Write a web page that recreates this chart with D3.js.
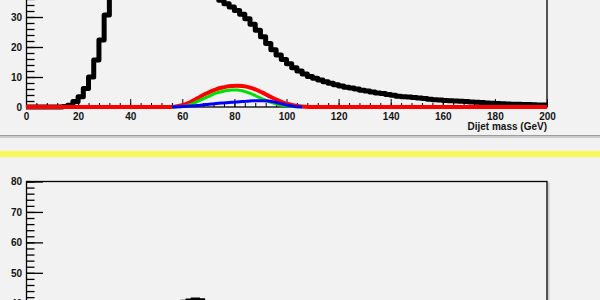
<!DOCTYPE html>
<html>
<head>
<meta charset="utf-8">
<script src="https://d3js.org/d3.v7.min.js"></script>
<style>
body{margin:0;background:#f2f2f2;overflow:hidden;}
svg text{font-family:"Liberation Sans",Arial,sans-serif;font-weight:bold;font-size:10px;fill:#141414;}
</style>
</head>
<body>
<svg width="600" height="300"></svg>
<script>
var svg = d3.select("svg");

//==================================================
//Data: 2 GeV bins, dijet mass 0 - 200 GeV

var binWidth = 2;
var massTicks = [0,20,40,60,80,100,120,140,160,180,200];
var topTicks = [0,10,20,30];
var bottomTicks = [40,50,60,70,80];
var xLabel = "Dijet mass (GeV)";

//black - background, 0..200
var background = [
  0,0,0,0,0,0,0,0.2,0.6,1.8,
  3.4,6.2,10,15.7,22.3,30.7,40,48,55,61,
  66,69,71,72,71,69,66,62,58,54,
  50,47,44,41.5,39.5,38,36.8,35.6,34.4,33.3,
  32.2,30.9,29.4,27.6,25.6,23.4,21.2,19.1,17.3,15.8,
  14.4,13.1,12.0,11.0,10.2,9.6,9.0,8.4,7.9,7.4,
  7.0,6.6,6.3,6.0,5.6,5.3,5.0,4.7,4.5,4.2,
  3.9,3.6,3.4,3.3,3.2,3.0,2.8,2.6,2.4,2.3,
  2.2,2.1,2.0,1.9,1.8,1.7,1.6,1.5,1.35,1.25,
  1.15,1.1,1.0,0.95,0.9,0.85,0.8,0.75,0.7,0.7];

//red - total signal, 0..200
var signalTotal = [
  0,0,0,0,0,0,0,0,0,0,
  0,0,0,0,0,0,0,0,0,0,
  0,0,0,0,0,0,0,0,0.1,0.4,
  0.9,1.6,2.5,3.5,4.4,5.2,5.9,6.4,6.8,7.0,
  7.1,7.0,6.7,6.2,5.5,4.7,3.8,2.9,2.1,1.4,
  0.9,0.5,0.25,0.1,0,0,0,0,0,0,
  0,0,0,0,0,0,0,0,0,0,
  0,0,0,0,0,0,0,0,0,0,
  0,0,0,0,0,0,0,0,0,0,
  0,0,0,0,0,0,0,0,0,0];

//green and blue start at 56 GeV
var signalStart = 56;
var signalW = [0.05,0.1,0.3,0.8,1.5,2.3,3.1,3.9,4.6,5.1,5.5,5.7,5.7,5.4,4.9,4.2,3.4,2.6,1.9,1.3,0.8,0.5,0.3,0.15,0.05];
var signalZ = [0.05,0.1,0.2,0.3,0.45,0.6,0.8,1.0,1.15,1.3,1.45,1.55,1.7,1.8,1.95,2.05,2.1,2.1,2.0,1.7,1.3,0.9,0.5,0.2,0.05];

//lower pad, black, 0..200
var lowerHist = [
  0,0,0,0,0,0,0,0.1,0.3,0.8,
  1.6,2.8,4.4,6.4,8.8,11.5,14.4,17.4,20.4,23.3,
  26.0,28.5,30.7,32.7,34.4,35.9,37.2,38.3,39.2,39.9,
  40.5,40.9,41.2,41.0,40.3,39.3,38.0,36.4,34.6,32.7,
  30.6,28.5,26.3,24.1,22.0,19.9,17.9,16.0,14.3,12.7,
  11.3,10.0,8.9,7.9,7.0,6.2,5.5,4.9,4.4,3.9,
  3.5,3.1,2.8,2.5,2.2,2.0,1.8,1.6,1.4,1.3,
  1.2,1.1,1.0,0.9,0.8,0.7,0.6,0.6,0.5,0.5,
  0.4,0.4,0.4,0.3,0.3,0.3,0.3,0.2,0.2,0.2,
  0.2,0.2,0.1,0.1,0.1,0.1,0.1,0.1,0.1,0.1];

//==================================================
//Scales

var x = d3.scaleLinear().domain([0,200]).range([26,547]);
var yTop = d3.scaleLinear().domain([0,70]).range([107,-103]);
var yBot = d3.scaleLinear().domain([0,80]).range([425,181.5]);

//turns bin contents into step outline points
function steps(vals, start){
  var pts = vals.map(function(v,i){ return [start + i*binWidth, v]; });
  pts.push([start + vals.length*binWidth, vals[vals.length-1]]);
  return pts;
}
//bin centres, plus both edges, for the smooth ones
function centres(vals, start){
  var pts = [[start, vals[0]]];
  vals.forEach(function(v,i){ pts.push([start + (i+0.5)*binWidth, v]); });
  pts.push([start + vals.length*binWidth, vals[vals.length-1]]);
  return pts;
}

function drawAxes(g, y, yTicks, top, bottom, withX){
  var minorY = d3.range(y.domain()[0], y.domain()[1]+0.01, 2);
  g.append("g").attr("transform","translate(26,0)")
    .call(d3.axisLeft(y).tickValues(minorY).tickSizeInner(-8.5).tickSizeOuter(0).tickFormat(""))
    .call(function(a){ a.select(".domain").remove(); a.selectAll("line").attr("stroke","#000").attr("stroke-width",1.3); });
  g.append("g").attr("transform","translate(26,0)")
    .call(d3.axisLeft(y).tickValues(yTicks).tickSizeInner(-17).tickSizeOuter(0).tickPadding(4))
    .call(function(a){ a.select(".domain").remove(); a.selectAll("line").attr("stroke","#000").attr("stroke-width",1.3); a.selectAll("text").attr("font-size",null).attr("font-family",null); });

  if(withX){
    var minorX = d3.range(0, 201, 4);
    g.append("g").attr("transform","translate(0,"+bottom+")")
      .call(d3.axisBottom(x).tickValues(minorX).tickSizeInner(-4).tickSizeOuter(0).tickFormat(""))
      .call(function(a){ a.select(".domain").remove(); a.selectAll("line").attr("stroke","#000"); });
    g.append("g").attr("transform","translate(0,"+bottom+")")
      .call(d3.axisBottom(x).tickValues(massTicks).tickSizeInner(-8).tickSizeOuter(0).tickPadding(6))
      .call(function(a){ a.select(".domain").remove(); a.selectAll("line").attr("stroke","#000"); a.selectAll("text").attr("font-size",null).attr("font-family",null); });
  }

  //frame
  g.append("rect")
    .attr("x",26.5).attr("y",top)
    .attr("width",x(200)-26.5).attr("height",bottom-top)
    .attr("fill","none").attr("stroke","#000").attr("stroke-width",1.3);
}

//==================================================
//Top pad

var topPad = svg.append("g");
drawAxes(topPad, yTop, topTicks, -103, 107, true);

topPad.append("text")
  .attr("x", 547).attr("y", 130)
  .attr("text-anchor","end")
  .text(xLabel);

svg.append("clipPath").attr("id","clipTop")
  .append("rect").attr("x",20).attr("y",-103).attr("width",535).attr("height",215);

var stepTop = d3.line()
  .x(function(d){ return x(d[0]); })
  .y(function(d){ return yTop(d[1]); })
  .curve(d3.curveStepAfter);
var smoothTop = d3.line()
  .x(function(d){ return x(d[0]); })
  .y(function(d){ return yTop(d[1]); })
  .curve(d3.curveMonotoneX);

var hists = [
  {vals: background, start: 0, color: "#000000", w: 5, smooth: false},
  {vals: signalTotal, start: 0, color: "#ff0000", w: 4, smooth: true},
  {vals: signalW, start: signalStart, color: "#00e000", w: 3, smooth: true},
  {vals: signalZ, start: signalStart, color: "#0000ff", w: 3, smooth: true}
];

topPad.append("g").attr("clip-path","url(#clipTop)")
  .selectAll("path").data(hists).enter().append("path")
  .attr("d", function(d){
    return d.smooth ? smoothTop(centres(d.vals, d.start)) : stepTop(steps(d.vals, d.start));
  })
  .attr("fill","none")
  .attr("stroke", function(d){ return d.color; })
  .attr("stroke-width", function(d){ return d.w; })
  .attr("stroke-linejoin","round");

//==================================================
//separator between pads

svg.append("rect").attr("x",0).attr("y",135).attr("width",600).attr("height",1.5).attr("fill","#9c9c9c");
svg.append("rect").attr("x",0).attr("y",136.5).attr("width",600).attr("height",1.5).attr("fill","#cdcdcd");
svg.append("rect").attr("x",0).attr("y",150).attr("width",600).attr("height",8).attr("fill","#f6f6b0");
svg.append("rect").attr("x",0).attr("y",151.5).attr("width",600).attr("height",5).attr("fill","#f7f75c");

//==================================================
//Bottom pad

var botPad = svg.append("g");
drawAxes(botPad, yBot, bottomTicks, 181.5, 425, false);

//little shadow on the right of the frame
botPad.append("line")
  .attr("x1",548.8).attr("x2",548.8).attr("y1",182.5).attr("y2",300)
  .attr("stroke","#bdbdbd").attr("stroke-width",1.2);

var lineBot = d3.line()
  .x(function(d){ return x(d[0]); })
  .y(function(d){ return yBot(d[1]); })
  .curve(d3.curveStepAfter);

botPad.append("path")
  .attr("d", lineBot(steps(lowerHist, 0)))
  .attr("fill","none").attr("stroke","#000").attr("stroke-width",4);
</script>
</body>
</html>
